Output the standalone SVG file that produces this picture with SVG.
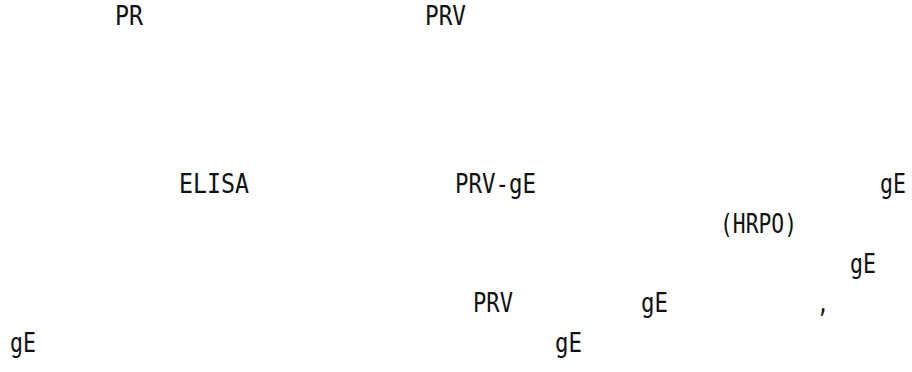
<svg xmlns="http://www.w3.org/2000/svg" width="912" height="372" viewBox="0 0 912 372">
<style>
text{font-family:"DejaVu Sans Mono","Liberation Mono",monospace;font-size:26px;fill:#111}
</style>
<rect width="912" height="372" fill="#fff"/>
<g id="line1">
<text x="115" y="25" textLength="28" lengthAdjust="spacingAndGlyphs">PR</text>
<text x="425" y="25" textLength="41" lengthAdjust="spacingAndGlyphs">PRV</text>
</g>
<g id="line2">
<text x="179" y="193" textLength="70" lengthAdjust="spacingAndGlyphs">ELISA</text>
<text x="455" y="193" textLength="81" lengthAdjust="spacingAndGlyphs">PRV-gE</text>
<text x="880" y="193" textLength="26" lengthAdjust="spacingAndGlyphs">gE</text>
</g>
<g id="line3">
<text x="720" y="233" textLength="77" lengthAdjust="spacingAndGlyphs">(HRPO)</text>
</g>
<g id="line4">
<text x="850" y="273" textLength="26" lengthAdjust="spacingAndGlyphs">gE</text>
</g>
<g id="line5">
<text x="473" y="312" textLength="40" lengthAdjust="spacingAndGlyphs">PRV</text>
<text x="641" y="312" textLength="27" lengthAdjust="spacingAndGlyphs">gE</text>
<text x="817" y="312" textLength="12" lengthAdjust="spacingAndGlyphs">,</text>
</g>
<g id="line6">
<text x="10" y="352" textLength="26" lengthAdjust="spacingAndGlyphs">gE</text>
<text x="555" y="352" textLength="27" lengthAdjust="spacingAndGlyphs">gE</text>
</g>
</svg>
